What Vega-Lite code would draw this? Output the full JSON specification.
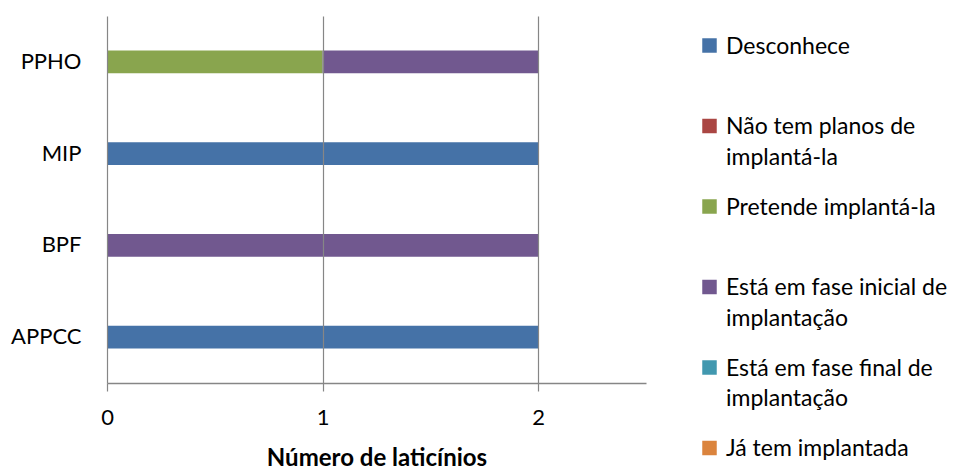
{
  "$schema": "https://vega.github.io/schema/vega-lite/v6.json",
  "width": 539,
  "height": 367,
  "autosize": {"type": "none"},
  "padding": {"left": 107, "top": 16, "right": 320, "bottom": 87},
  "background": "white",
  "config": {
    "font": "Lato",
    "view": {"stroke": null}
  },
  "data": {
    "values": [
      {"programa": "PPHO", "situacao": "Pretende implantá-la", "laticinios": 1},
      {"programa": "PPHO", "situacao": "Está em fase inicial de implantação", "laticinios": 1},
      {"programa": "MIP", "situacao": "Desconhece", "laticinios": 2},
      {"programa": "BPF", "situacao": "Está em fase inicial de implantação", "laticinios": 2},
      {"programa": "APPCC", "situacao": "Desconhece", "laticinios": 2}
    ]
  },
  "mark": {"type": "bar"},
  "encoding": {
    "y": {
      "field": "programa",
      "type": "nominal",
      "sort": ["PPHO", "MIP", "BPF", "APPCC"],
      "scale": {"paddingInner": 0.75, "paddingOuter": 0.375},
      "axis": {
        "title": null,
        "domain": false,
        "ticks": false,
        "labelFontSize": 22,
        "labelColor": "#000000",
        "labelPadding": 26
      }
    },
    "x": {
      "field": "laticinios",
      "type": "quantitative",
      "stack": "zero",
      "scale": {"domain": [0, 2.5], "nice": false},
      "axis": {
        "title": "Número de laticínios",
        "values": [0, 1, 2],
        "format": "d",
        "labelFlush": false,
        "zindex": 1,
        "grid": true,
        "gridColor": "#868686",
        "gridWidth": 1.2,
        "domainColor": "#868686",
        "domainWidth": 1.5,
        "tickColor": "#868686",
        "tickWidth": 1.2,
        "tickSize": 8,
        "labelFontSize": 22,
        "labelColor": "#000000",
        "labelPadding": 16,
        "titleFontSize": 24,
        "titleFontWeight": "bold",
        "titleColor": "#000000",
        "titlePadding": 18
      }
    },
    "order": {"field": "situacao", "sort": "descending"},
    "color": {
      "field": "situacao",
      "type": "nominal",
      "sort": [
        "Desconhece",
        "Não tem planos de implantá-la",
        "Pretende implantá-la",
        "Está em fase inicial de implantação",
        "Está em fase final de implantação",
        "Já tem implantada"
      ],
      "scale": {
        "domain": [
          "Desconhece",
          "Não tem planos de implantá-la",
          "Pretende implantá-la",
          "Está em fase inicial de implantação",
          "Está em fase final de implantação",
          "Já tem implantada"
        ],
        "range": ["#4572A7", "#AA4643", "#89A54E", "#71588F", "#4198AF", "#DB843D"]
      },
      "legend": {
        "title": null,
        "orient": "none",
        "legendX": 591,
        "legendY": 18,
        "symbolType": "square",
        "symbolSize": 210,
        "symbolStrokeWidth": 0,
        "labelFontSize": 23,
        "labelColor": "#000000",
        "labelOffset": 5,
        "labelLimit": 0,
        "labelBaseline": "alphabetic",
        "gridAlign": "all",
        "rowPadding": 25.5,
        "labelExpr": "datum.label == 'Não tem planos de implantá-la' ? ['Não tem planos de', 'implantá-la'] : datum.label == 'Está em fase inicial de implantação' ? ['Está em fase inicial de', 'implantação'] : datum.label == 'Está em fase final de implantação' ? ['Está em fase final de', 'implantação'] : [datum.label, '']",
        "encode": {
          "labels": {
            "update": {
              "dy": {"value": 8},
              "lineHeight": {"value": 30.5}
            }
          }
        }
      }
    }
  }
}
